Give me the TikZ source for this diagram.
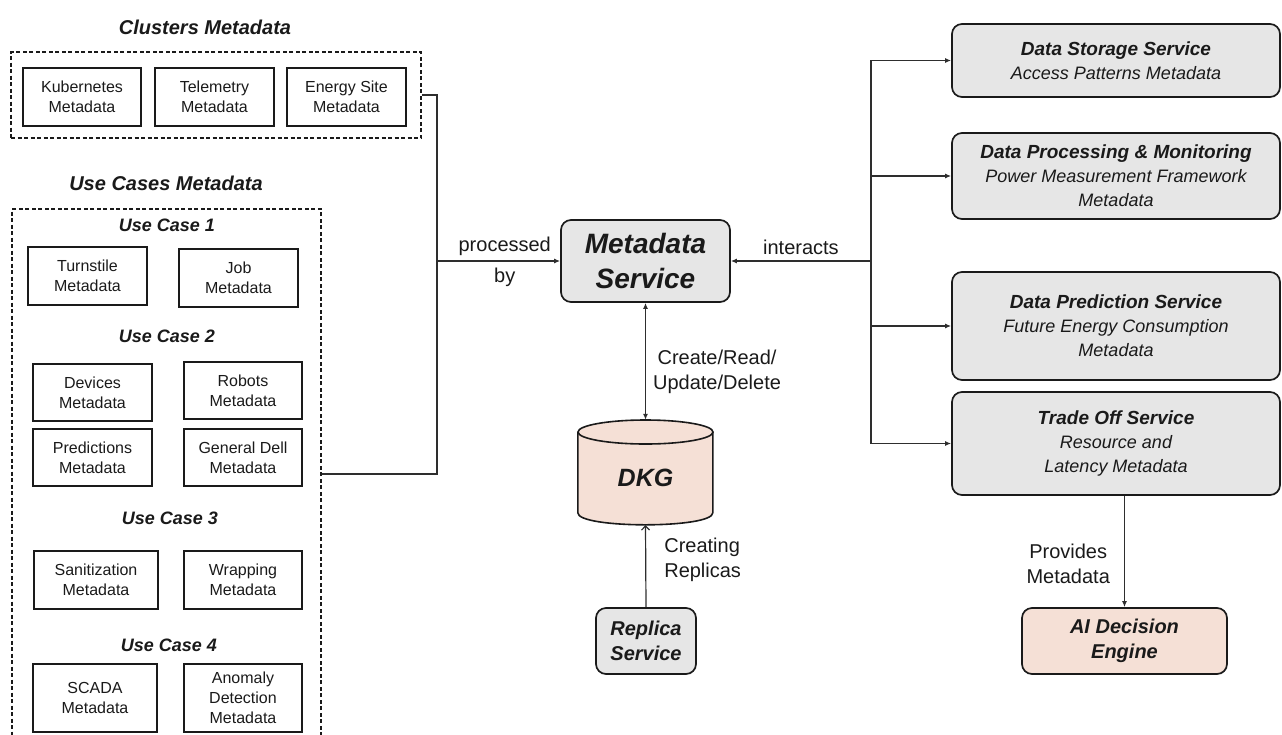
\documentclass[tikz,border=0pt]{standalone}
\usepackage{fontspec}
\setmainfont{Liberation Sans}
\usetikzlibrary{arrows.meta}
\definecolor{boxgray}{HTML}{E6E6E6}
\definecolor{dkgpink}{HTML}{F5E0D6}
\definecolor{ink}{HTML}{1A1A1A}
\definecolor{wire}{HTML}{2E2E2E}
\begin{document}
\begin{tikzpicture}[x=1pt,y=-1pt,
  every node/.style={text=ink},
  metabox/.style={draw=ink, line width=1.8pt, align=center, inner sep=0pt,
    font=\fontsize{16}{20}\selectfont},
  groupbox/.style={draw=ink, line width=1.5pt, dash pattern=on 4pt off 2.5pt, inner sep=0pt},
  grouptitle/.style={font=\fontsize{20}{24}\selectfont\bfseries\itshape},
  casetitle/.style={font=\fontsize{18}{22}\selectfont\bfseries\itshape},
  service/.style={draw=ink, line width=1.7pt, rounded corners=10pt, fill=boxgray,
    align=center, inner sep=0pt},
  svctext/.style={service, font=\fontsize{18}{24}\selectfont\itshape},
  conn/.style={draw=wire, line width=1.2pt},
  arr/.style={conn, -{Latex[length=6pt,width=5pt]}},
  lbl/.style={font=\fontsize{20}{25}\selectfont, align=center, inner sep=2pt},
]
\useasboundingbox (0,0) rectangle (1282,734);

% ---------- Clusters metadata ----------
\node[grouptitle] (cltitle) at (205,27) {Clusters Metadata};
\node[groupbox, minimum width=410pt, minimum height=86pt] (clusters) at (216,95) {};
\node[metabox, minimum width=118pt, minimum height=58pt] (kube) at (82,97) {Kubernetes\\Metadata};
\node[metabox, minimum width=119pt, minimum height=58pt] (tele) at (214.5,97) {Telemetry\\Metadata};
\node[metabox, minimum width=119pt, minimum height=58pt] (energy) at (346.5,97) {Energy Site\\Metadata};

% ---------- Use cases metadata ----------
\node[grouptitle] (uctitle) at (166,183) {Use Cases Metadata};
\node[groupbox, minimum width=309pt, minimum height=530pt] (uc) at (166.5,474) {};

\node[casetitle] (uc1) at (167,225) {Use Case 1};
\node[metabox, minimum width=119pt, minimum height=58pt] (turn) at (87.5,276) {Turnstile\\Metadata};
\node[metabox, minimum width=119pt, minimum height=58pt] (job) at (238.5,278) {Job\\Metadata};

\node[casetitle] (uc2) at (167,336) {Use Case 2};
\node[metabox, minimum width=119pt, minimum height=57pt] (dev) at (92.5,392.5) {Devices\\Metadata};
\node[metabox, minimum width=118pt, minimum height=57pt] (robots) at (243,390.5) {Robots\\Metadata};
\node[metabox, minimum width=119pt, minimum height=57pt] (pred) at (92.5,457.5) {Predictions\\Metadata};
\node[metabox, minimum width=118pt, minimum height=57pt] (dell) at (243,457.5) {General Dell\\Metadata};

\node[casetitle] (uc3) at (170,518) {Use Case 3};
\node[metabox, minimum width=124pt, minimum height=58pt] (sani) at (96,580) {Sanitization\\Metadata};
\node[metabox, minimum width=118pt, minimum height=58pt] (wrap) at (243,580) {Wrapping\\Metadata};

\node[casetitle] (uc4) at (169,645) {Use Case 4};
\node[metabox, minimum width=124pt, minimum height=68pt] (scada) at (95,698) {SCADA\\Metadata};
\node[metabox, minimum width=118pt, minimum height=68pt] (anom) at (243,698) {Anomaly\\Detection\\Metadata};

% ---------- Central services ----------
\node[service, minimum width=169pt, minimum height=82pt,
      font=\fontsize{28}{35}\selectfont\bfseries\itshape] (ms) at (645.5,261) {Metadata\\Service};

% DKG store: a named frame, with the cylinder drawn over it
\node[minimum width=135pt, minimum height=105pt, inner sep=0pt] (dkg) at (645.5,472.5) {};
\path[fill=dkgpink] (dkg.north west) ++(0,12) -- ++(0,81)
  .. controls +(0,16) and +(0,16) .. ++(135,0) -- ++(0,-81) -- cycle;
\draw[ink, line width=1.6pt] (dkg.north west) ++(0,12) -- ++(0,81)
  .. controls +(0,16) and +(0,16) .. ++(135,0) -- ++(0,-81);
\draw[ink, line width=1.6pt, fill=dkgpink] (645.5,432) ellipse [x radius=67.5, y radius=12];
\node[font=\fontsize{25}{30}\selectfont\bfseries\itshape] (dkglabel) at (645.5,478) {DKG};

\node[service, minimum width=100pt, minimum height=66pt,
      font=\fontsize{20}{25}\selectfont\bfseries\itshape] (rep) at (646,641) {Replica\\Service};

% ---------- Right-hand services ----------
\node[svctext, minimum width=328pt, minimum height=73pt] (ds) at (1116,60.5)
  {{\bfseries\fontsize{19}{24}\selectfont Data Storage Service}\\Access Patterns Metadata};
\node[svctext, minimum width=328pt, minimum height=86pt] (dp) at (1116,176)
  {{\bfseries\fontsize{19}{24}\selectfont Data Processing \& Monitoring}\\Power Measurement Framework\\Metadata};
\node[svctext, minimum width=328pt, minimum height=108pt] (dpr) at (1116,326)
  {{\bfseries\fontsize{19}{24}\selectfont Data Prediction Service}\\Future Energy Consumption\\Metadata};
\node[svctext, minimum width=328pt, minimum height=103pt] (to) at (1116,443.5)
  {{\bfseries\fontsize{19}{24}\selectfont Trade Off Service}\\Resource and\\Latency Metadata};

\node[service, fill=dkgpink, minimum width=205pt, minimum height=66pt,
      font=\fontsize{20}{25}\selectfont\bfseries\itshape] (ai) at (1124.5,641) {AI Decision\\Engine};

% ---------- Connectors ----------
\coordinate (lbus) at (437,261);
\coordinate (rbus) at (871,261);

\draw[conn] (clusters.east) -| (lbus);
\draw[conn] (uc.east) -| (lbus);
\draw[arr] (lbus) -- (ms.west)
  node[lbl, pos=0.55, above=3pt] {processed}
  node[lbl, pos=0.55, below=4pt] {by};

\draw[arr] (rbus) -- (ms.east) node[lbl, midway, above=4pt] {interacts};
\draw[arr] (rbus) |- (ds.west);
\draw[arr] (rbus) |- (dp.west);
\draw[arr] (rbus) |- (dpr.west);
\draw[arr] (rbus) |- (to.west);

\draw[conn, {Latex[length=6pt,width=5pt]}-{Latex[length=6pt,width=5pt]}] (ms.south) -- (dkg.north)
  node[lbl, pos=0.59, right=5pt] {Create/Read/\\Update/Delete};

\draw[conn, -{Straight Barb[length=4pt,width=8pt]}] (rep.north) -- (dkg.south)
  node[lbl, pos=0.58, right=16pt, align=left] {Creating\\Replicas};

\draw[arr] (to.south -| ai.north) -- (ai.north)
  node[lbl, pos=0.61, left=12pt] {Provides\\Metadata};
\end{tikzpicture}
\end{document}
